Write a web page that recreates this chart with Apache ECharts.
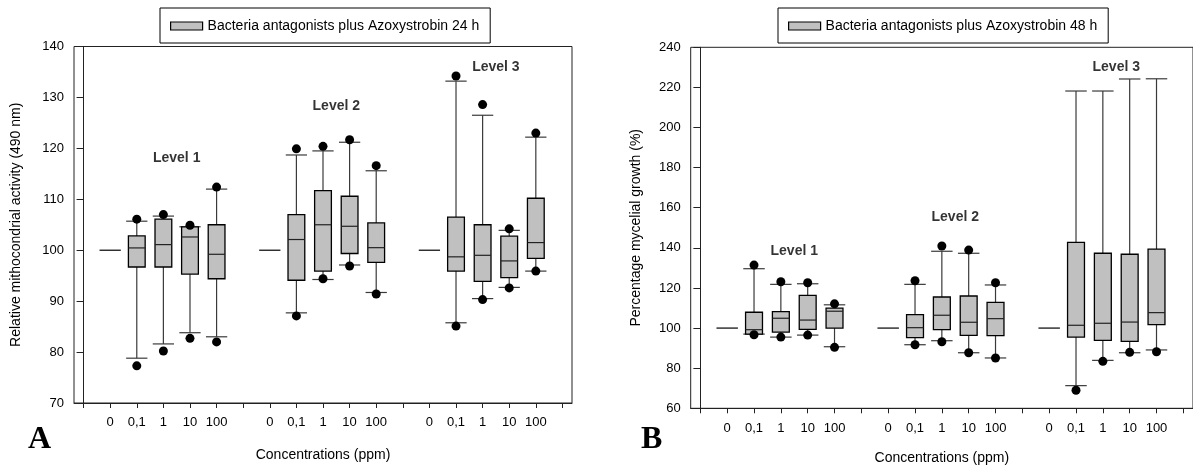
<!DOCTYPE html>
<html>
<head>
<meta charset="utf-8">
<script src="https://cdn.jsdelivr.net/npm/echarts@6/dist/echarts.min.js"></script>
<style>
html,body{margin:0;padding:0;background:#fff;}
#chart{width:1193px;height:472px;}
</style>
</head>
<body>
<div id="chart"></div>
<script>
// ---- categories / labels ----
const concentrations = ['0', '0,1', '1', '10', '100'];
const levelNames = ['Level 1', 'Level 2', 'Level 3'];
const legend24 = 'Bacteria antagonists plus Azoxystrobin 24 h';
const legend48 = 'Bacteria antagonists plus Azoxystrobin 48 h';
const yName24 = 'Relative mithocondrial activity (490 nm)';
const yName48 = 'Percentage mycelial growth (%)';
const xName = 'Concentrations (ppm)';

// ---- 24 h (panel A) : per concentration [lowDot, lowWhisker, Q1, median, Q3, highWhisker, highDot] ----
const a_level1 = [
  [null, 100, 100, 100, 100, 100, null],
  [77.3, 78.8, 96.7, 100.45, 102.8, 105.7, 106.1],
  [80.2, 81.6, 96.7, 101.1, 106.1, 106.7, 107.0],
  [82.7, 83.8, 95.3, 102.6, 104.6, 104.6, 104.9],
  [82.0, 83.0, 94.4, 99.2, 105.0, 112.0, 112.4]
];
const a_level2 = [
  [null, 100, 100, 100, 100, 100, null],
  [87.1, 87.7, 94.1, 102.1, 107.0, 118.7, 119.9],
  [94.4, 94.25, 95.9, 105.0, 111.7, 119.5, 120.4],
  [96.9, 97.1, 99.35, 104.7, 110.6, 121.2, 121.7],
  [91.4, 91.7, 97.6, 100.5, 105.35, 115.6, 116.6]
];
const a_level3 = [
  [null, 100, 100, 100, 100, 100, null],
  [85.1, 85.75, 95.9, 98.7, 106.5, 133.2, 134.2],
  [90.3, 90.5, 93.9, 99.0, 105.0, 126.5, 128.6],
  [92.6, 92.7, 94.6, 97.9, 102.75, 103.9, 104.2],
  [95.9, 95.9, 98.4, 101.5, 110.2, 122.2, 123.0]
];
const a_levelLabelY = [118, 128.2, 135.9];

// ---- 48 h (panel B) ----
const b_level1 = [
  [null, 100, 100, 100, 100, 100, null],
  [96.7, 97.0, 97.0, 99.2, 107.9, 129.6, 131.4],
  [95.5, 95.5, 98.0, 104.9, 108.2, 121.8, 123.1],
  [96.5, 96.5, 99.4, 104.0, 116.3, 122.1, 122.6],
  [90.4, 90.7, 100.0, 108.4, 109.9, 111.6, 112.1]
];
const b_level2 = [
  [null, 100, 100, 100, 100, 100, null],
  [91.7, 91.7, 95.2, 100.2, 106.7, 121.8, 123.6],
  [93.2, 93.7, 99.2, 106.4, 115.5, 138.3, 140.9],
  [87.7, 87.7, 96.4, 102.9, 116.0, 137.3, 138.9],
  [85.1, 85.1, 96.2, 104.7, 112.8, 121.5, 122.6]
];
const b_level3 = [
  [null, 100, 100, 100, 100, 100, null],
  [69.0, 71.3, 95.5, 101.4, 142.7, 218.2, null],
  [83.4, 83.9, 93.9, 102.4, 137.3, 218.2, null],
  [87.9, 87.7, 93.4, 103.0, 136.8, 224.2, null],
  [88.2, 89.1, 101.7, 107.7, 139.4, 224.3, null]
];
const b_levelLabelY = [138.6, 155.2, 230];

// ---- helpers to build series data ----
function xPos(levelIdx, concIdx) { return levelIdx * 6 + concIdx + 1; }

function boxData(levels) {
  const out = [];
  levels.forEach((rows, li) => rows.forEach((r, ci) => {
    out.push([xPos(li, ci), r[1], r[2], r[3], r[4], r[5]]);
  }));
  return out;
}
function dotData(levels) {
  const out = [];
  levels.forEach((rows, li) => rows.forEach((r, ci) => {
    if (r[0] != null) out.push([xPos(li, ci), r[0]]);
    if (r[6] != null) out.push([xPos(li, ci), r[6]]);
  }));
  return out;
}
function levelLabelData(ys) {
  return ys.map((y, i) => ({ value: [i * 6 + 3.5, y], name: levelNames[i] }));
}

function renderBox(params, api) {
  const x = api.value(0);
  const wl = api.value(1), q1 = api.value(2), med = api.value(3), q3 = api.value(4), wh = api.value(5);
  const band = api.size([1, 0])[0];
  const bw = band * 0.63, cw = band * 0.8;
  const pWL = api.coord([x, wl]), pQ1 = api.coord([x, q1]), pMed = api.coord([x, med]);
  const pQ3 = api.coord([x, q3]), pWH = api.coord([x, wh]);
  const cx = pMed[0];
  const children = [];
  const lineStyle = { stroke: '#000', lineWidth: 1.2 };
  const whiskerStyle = { stroke: '#3a3a3a', lineWidth: 1.2 };
  if (q1 === q3) {
    children.push({ type: 'line', shape: { x1: cx - cw / 2, y1: pMed[1], x2: cx + cw / 2, y2: pMed[1] }, style: lineStyle });
    return { type: 'group', children };
  }
  children.push({ type: 'line', shape: { x1: cx, y1: pQ3[1], x2: cx, y2: pWH[1] }, style: whiskerStyle });
  children.push({ type: 'line', shape: { x1: cx, y1: pQ1[1], x2: cx, y2: pWL[1] }, style: whiskerStyle });
  children.push({ type: 'line', shape: { x1: cx - cw / 2, y1: pWH[1], x2: cx + cw / 2, y2: pWH[1] }, style: whiskerStyle });
  children.push({ type: 'line', shape: { x1: cx - cw / 2, y1: pWL[1], x2: cx + cw / 2, y2: pWL[1] }, style: whiskerStyle });
  children.push({ type: 'rect', shape: { x: cx - bw / 2, y: pQ3[1], width: bw, height: pQ1[1] - pQ3[1] },
    style: { fill: '#c0c0c0', stroke: '#000', lineWidth: 1.3 } });
  children.push({ type: 'line', shape: { x1: cx - bw / 2, y1: pMed[1], x2: cx + bw / 2, y2: pMed[1] }, style: { stroke: '#222', lineWidth: 1.2 } });
  return { type: 'group', children };
}

const FONT = 'Liberation Sans, Arial, sans-serif';
const tickValues = Array.from({ length: 19 }, (_, i) => i);
const labelValues = [];
for (let l = 0; l < 3; l++) for (let c = 0; c < 5; c++) labelValues.push(xPos(l, c));

function makeXAxis(gridIndex, margin, nameGap) {
  return {
    type: 'value', gridIndex, min: -0.36, max: 18.36,
    name: xName, nameLocation: 'middle', nameGap,
    nameTextStyle: { fontFamily: FONT, fontSize: 14, color: '#000' },
    axisLine: { show: true, lineStyle: { color: '#222', width: 1 } },
    axisTick: { show: true, customValues: tickValues, length: 5, lineStyle: { color: '#222' } },
    axisLabel: { show: true, customValues: labelValues, margin, fontFamily: FONT, fontSize: 13, color: '#000',
      formatter: v => concentrations[Math.round(v) % 6 - 1] },
    splitLine: { show: false }
  };
}
function makeYAxis(gridIndex, min, max, interval, name, nameGap) {
  return {
    type: 'value', gridIndex, min, max, interval,
    name, nameLocation: 'middle', nameGap,
    nameTextStyle: { fontFamily: FONT, fontSize: 14, color: '#000' },
    axisLine: { show: true, lineStyle: { color: '#222', width: 1 } },
    axisTick: { show: true, length: 7, lineStyle: { color: '#222' } },
    axisLabel: { margin: 10, fontFamily: FONT, fontSize: 13, color: '#000' },
    splitLine: { show: false }
  };
}

function legendCfg(name, left) {
  return {
    left, top: 8, orient: 'horizontal',
    data: [{ name, icon: 'rect', itemStyle: { color: '#c0c0c0', borderColor: '#000', borderWidth: 1.2 } }],
    itemWidth: 32, itemHeight: 8,
    padding: [11, 11, 10, 10],
    borderColor: '#000', borderWidth: 1, backgroundColor: '#fff',
    textStyle: { fontFamily: FONT, fontSize: 14, color: '#000' },
    selectedMode: false
  };
}

function panelSeries(name, idx, levels, labelYs) {
  return [
    { type: 'custom', name, xAxisIndex: idx, yAxisIndex: idx, renderItem: renderBox,
      itemStyle: { color: '#c0c0c0' }, encode: { x: 0, y: [1, 2, 3, 4, 5] },
      data: boxData(levels), z: 2, silent: true },
    { type: 'scatter', name: 'dots' + idx, xAxisIndex: idx, yAxisIndex: idx, symbol: 'circle', symbolSize: 9,
      itemStyle: { color: '#000', opacity: 1 }, data: dotData(levels), z: 3, silent: true },
    { type: 'scatter', name: 'levels' + idx, xAxisIndex: idx, yAxisIndex: idx, symbolSize: 0,
      label: { show: true, position: 'inside', formatter: p => p.name, fontFamily: FONT, fontSize: 14, fontWeight: 'bold', color: '#000' },
      data: levelLabelData(labelYs), z: 4, silent: true }
  ];
}

const chart = echarts.init(document.getElementById('chart'), null, { renderer: 'canvas' });
chart.setOption({
  animation: false,
  backgroundColor: '#fff',
  legend: [legendCfg(legend24, 160), legendCfg(legend48, 778)],
  grid: [
    { left: 74, top: 46.5, width: 498, height: 356.5, show: true, borderColor: '#222', borderWidth: 1, backgroundColor: 'transparent' },
    { left: 690.7, top: 47.3, width: 504.5, height: 361, show: true, borderColor: '#222', borderWidth: 1, backgroundColor: 'transparent' }
  ],
  xAxis: [makeXAxis(0, 13, 45), makeXAxis(1, 14, 43)],
  yAxis: [makeYAxis(0, 70, 140, 10, yName24, 51), makeYAxis(1, 60, 240, 20, yName48, 48)],
  graphic: [
    { type: 'text', left: 28, top: 424, style: { text: 'A', font: 'bold 32px "Liberation Serif", "Times New Roman", serif', fill: '#000' } },
    { type: 'text', left: 641, top: 424, style: { text: 'B', font: 'bold 32px "Liberation Serif", "Times New Roman", serif', fill: '#000' } }
  ],
  series: [
    ...panelSeries(legend24, 0, [a_level1, a_level2, a_level3], a_levelLabelY),
    ...panelSeries(legend48, 1, [b_level1, b_level2, b_level3], b_levelLabelY)
  ]
});
</script>
</body>
</html>
